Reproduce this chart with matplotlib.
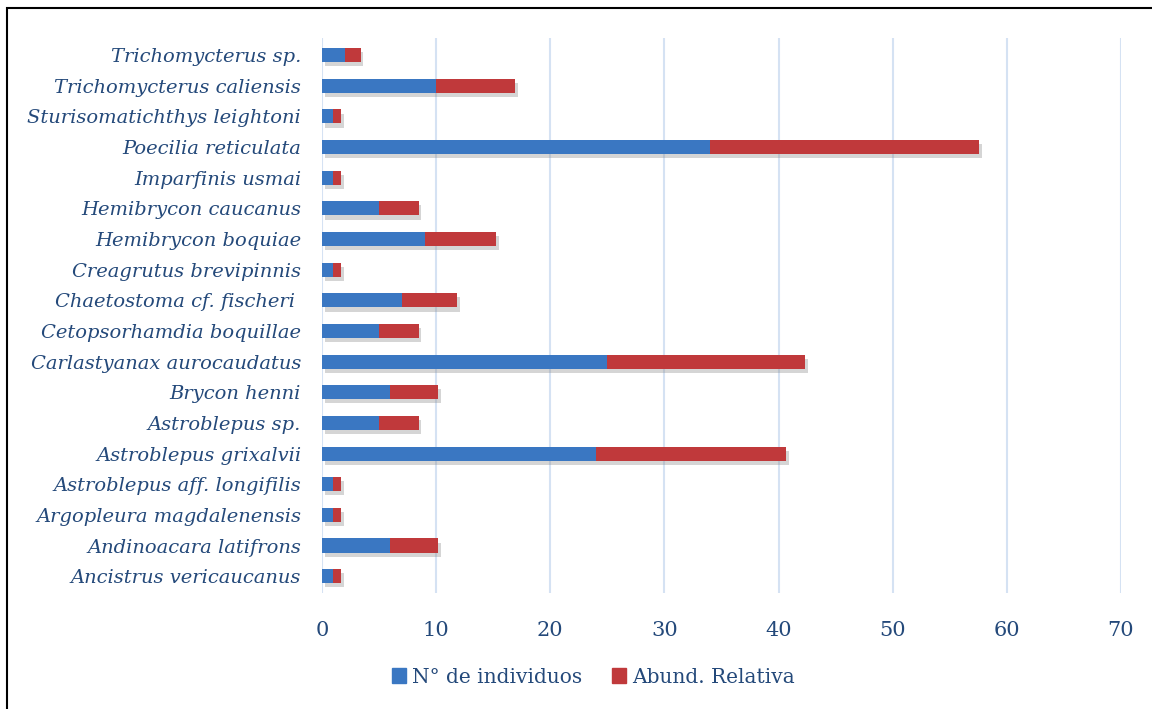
import matplotlib.pyplot as plt
import matplotlib.patheffects as pe
from matplotlib.patches import Patch
import numpy as np

# Species, bottom to top as drawn
species = [
    "Ancistrus vericaucanus", "Andinoacara latifrons", "Argopleura magdalenensis",
    "Astroblepus aff. longifilis", "Astroblepus grixalvii", "Astroblepus sp.",
    "Brycon henni", "Carlastyanax aurocaudatus", "Cetopsorhamdia boquillae",
    "Chaetostoma cf. fischeri ", "Creagrutus brevipinnis", "Hemibrycon boquiae",
    "Hemibrycon caucanus", "Imparfinis usmai", "Poecilia reticulata",
    "Sturisomatichthys leightoni", "Trichomycterus caliensis", "Trichomycterus sp.",
]
n_individuos = [1, 6, 1, 1, 24, 5, 6, 25, 5, 7, 1, 9, 5, 1, 34, 1, 10, 2]
abund_relativa = [0.69, 4.17, 0.69, 0.69, 16.67, 3.47, 4.17, 17.36, 3.47, 4.86,
                  0.69, 6.25, 3.47, 0.69, 23.61, 0.69, 6.94, 1.39]

blue = "#3a77c2"
red = "#c0393b"
text_col = "#24497a"

fig = plt.figure(figsize=(11.52, 7.09), dpi=100)
ax = fig.add_axes([0.2795, 0.1636, 0.6935, 0.7824])

y = np.arange(len(species))
shadow = [pe.SimplePatchShadow(offset=(2, -3), shadow_rgbFace="#888888", alpha=0.35), pe.Normal()]
b1 = ax.barh(y, n_individuos, height=0.46, color=blue, zorder=3)
b2 = ax.barh(y, abund_relativa, left=n_individuos, height=0.46, color=red, zorder=3)
for bar in list(b1) + list(b2):
    bar.set_path_effects(shadow)

ax.set_xlim(0, 70)
ax.set_ylim(-0.55, len(species) - 0.45)
ax.set_xticks(range(0, 71, 10))
ax.set_yticks(y)
ax.set_yticklabels(species, fontstyle="italic")
ax.grid(axis="x", color="#d5e2f3", linewidth=1.5, zorder=0)
ax.set_axisbelow(True)
for s in ax.spines.values():
    s.set_visible(False)
ax.tick_params(length=0, labelcolor=text_col, labelsize=15)
ax.tick_params(axis="y", labelsize=14, pad=15)
ax.tick_params(axis="x", pad=20)
for lab in ax.get_xticklabels() + ax.get_yticklabels():
    lab.set_family("DejaVu Serif")

handles = [Patch(color=blue, label="N° de individuos"), Patch(color=red, label="Abund. Relativa")]
leg = fig.legend(handles=handles, loc="center", bbox_to_anchor=(0.515, 0.045), ncol=2,
                 frameon=False, handlelength=0.7, handleheight=0.7, handletextpad=0.3,
                 columnspacing=1.5, prop={"family": "DejaVu Serif", "size": 14.5})
for t in leg.get_texts():
    t.set_color(text_col)

# outer frame
fig.patches.append(plt.Rectangle((7 / 1152, -0.01), 1.1, 1 - 8 / 709 + 0.01,
                                 transform=fig.transFigure, fill=False,
                                 edgecolor="black", linewidth=1.5))

fig.savefig("out.png", dpi=100)
